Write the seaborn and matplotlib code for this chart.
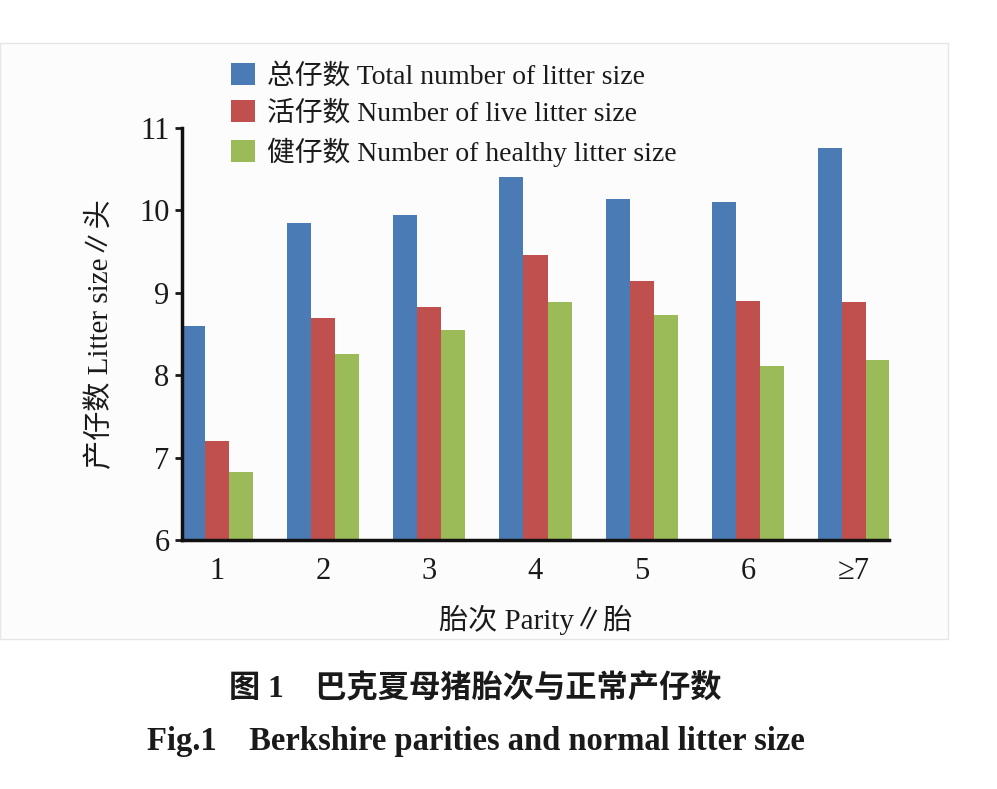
import numpy as np
import pandas as pd
import seaborn as sns
import matplotlib.pyplot as plt
from matplotlib.patches import Rectangle, Patch

sns.set_style('ticks')
plt.rcParams['font.family'] = ['Liberation Serif', 'Noto Sans CJK SC']
plt.rcParams['text.color'] = '#1a1a1a'
plt.rcParams['axes.labelcolor'] = '#1a1a1a'
plt.rcParams['xtick.color'] = '#1a1a1a'
plt.rcParams['ytick.color'] = '#1a1a1a'

# data
parity = ['1', '2', '3', '4', '5', '6', '≥7']
total_litter = [8.60, 9.85, 9.94, 10.41, 10.14, 10.10, 10.76]
live_litter = [7.20, 8.69, 8.83, 9.46, 9.14, 8.90, 8.89]
healthy_litter = [6.83, 8.26, 8.55, 8.89, 8.73, 8.11, 8.18]
series_names = ['总仔数 Total number of litter size',
                '活仔数 Number of live litter size',
                '健仔数 Number of healthy litter size']
colors = ['#4a7bb5', '#c0504d', '#9bbb59']

df = pd.DataFrame({
    'parity': parity * 3,
    'value': total_litter + live_litter + healthy_litter,
    'series': [s for s in series_names for _ in parity],
})

fig = plt.figure(figsize=(9.97, 7.89), dpi=100)
bg = Rectangle((0.0, 0.19), 0.951, 0.755, transform=fig.transFigure,
               facecolor='#fcfcfc', edgecolor='#e6e6e6', lw=1, zorder=-10)
fig.add_artist(bg)
ax = fig.add_axes([0.1825, 0.3156, 0.7092, 0.5222])
ax.set_facecolor('none')

sns.barplot(data=df, x='parity', y='value', hue='series', palette=colors,
            width=0.68, gap=0, saturation=1, linewidth=0, ax=ax, legend=False)

ax.set_ylim(6, 11)
ax.set_xlim(-0.33, 6.33)
ax.set_yticks([6, 7, 8, 9, 10, 11])
sns.despine(ax=ax)
for s in ['left', 'bottom']:
    ax.spines[s].set_linewidth(2.5)
    ax.spines[s].set_color('#111111')
    ax.spines[s].set_zorder(5)
ax.tick_params(axis='y', length=5, width=2, labelsize=22, pad=4)
ax.tick_params(axis='x', length=0, labelsize=22, pad=12)
ax.set_xlabel('胎次 Parity∥胎', fontsize=21, labelpad=14)
ax.set_ylabel('产仔数 Litter size∥头', fontsize=21, labelpad=18)

handles = [Patch(facecolor=c, edgecolor='none') for c in colors]
fig.legend(handles, series_names, loc='upper left', bbox_to_anchor=(0.207, 0.952),
           frameon=False, fontsize=20, handlelength=0.85, handleheight=0.85,
           handletextpad=0.45, labelspacing=0.38)

fig.text(0.477, 0.128, '图 1    巴克夏母猪胎次与正常产仔数', ha='center', va='center',
         fontsize=22.5, fontweight='bold')
fig.text(0.477, 0.060, 'Fig.1    Berkshire parities and normal litter size', ha='center',
         va='center', fontsize=23.5, fontweight='bold')

fig.savefig('out.png', dpi=100, facecolor='white')
